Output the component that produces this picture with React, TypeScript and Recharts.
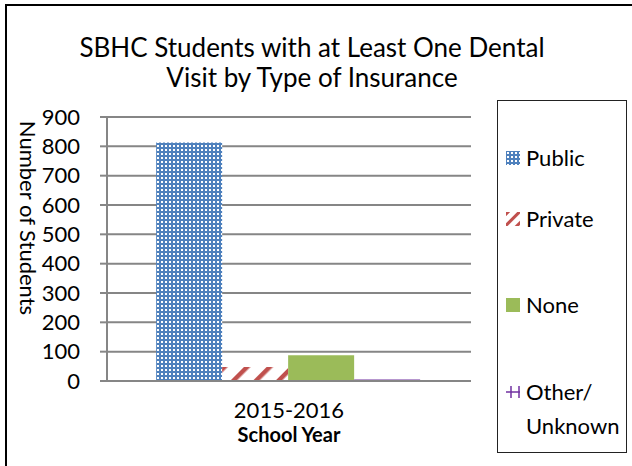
import { BarChart, Bar, XAxis, YAxis, CartesianGrid, Label } from "recharts";

// values
const years = ["2015-2016"];
const publicIns = [813];
const privateIns = [48];
const noneIns = [88];
const otherIns = [5];
const yTicks = [0, 100, 200, 300, 400, 500, 600, 700, 800, 900];

const seriesNames = ["Public", "Private", "None", "Other/ Unknown"];

const rows = years.map((y, i) => ({
  year: y,
  Public: publicIns[i],
  Private: privateIns[i],
  None: noneIns[i],
  Other: otherIns[i],
}));

const FONT = "Lato, 'Open Sans', sans-serif";

/* legend swatches */
function Swatch({ idx }: { idx: number }) {
  if (idx === 0)
    return (
      <svg width={14} height={14}>
        <rect width={14} height={14} fill="url(#pubPat)" />
      </svg>
    );
  if (idx === 1)
    return (
      <svg width={14} height={14}>
        <rect width={14} height={14} fill="url(#privPatSm)" />
      </svg>
    );
  if (idx === 2)
    return (
      <svg width={14} height={14}>
        <rect width={14} height={14} fill="#9BBB59" />
      </svg>
    );
  return (
    <svg width={14} height={14}>
      <line x1={0} y1={7} x2={14} y2={7} stroke="#7030A0" strokeWidth={1.5} />
      <line x1={5} y1={1} x2={5} y2={13} stroke="#7030A0" strokeWidth={1.5} />
      <line x1={13} y1={1} x2={13} y2={13} stroke="#7030A0" strokeWidth={1.5} />
    </svg>
  );
}

const legendTops = [40, 101, 187, 274];

function LegendBox() {
  return (
    <div
      style={{
        position: "absolute",
        left: 497,
        top: 100,
        width: 128,
        height: 351,
        border: "1.5px solid #222",
        fontFamily: FONT,
        fontSize: 22,
        color: "#000",
        background: "#fff",
      }}
    >
      {seriesNames.map((n, i) => (
        <div
          key={n}
          style={{
            position: "absolute",
            left: 8,
            top: legendTops[i],
            display: "flex",
            alignItems: i === 3 ? "flex-start" : "center",
            gap: 6,
            lineHeight: "34px",
          }}
        >
          <span style={{ display: "inline-flex", marginTop: i === 3 ? 10 : 0 }}>
            <Swatch idx={i} />
          </span>
          <span style={{ width: 100 }}>{n}</span>
        </div>
      ))}
    </div>
  );
}

function YTitle(props: any) {
  const vb = props.viewBox || { x: 0, y: 0, width: 0, height: 0 };
  const x = vb.x + 28;
  const y = vb.y + vb.height / 2 - 31;
  return (
    <text
      x={x}
      y={y}
      transform={`rotate(90, ${x}, ${y})`}
      textAnchor="middle"
      dominantBaseline="central"
      fill="#000"
      fontSize={22}
      fontFamily={FONT}
    >
      Number of Students
    </text>
  );
}

export default function App() {
  return (
    <div style={{ position: "relative", width: 632, height: 466, background: "#fff", overflow: "hidden" }}>
      <style>{`body{margin:0}`}</style>
      {/* frame */}
      <div
        style={{
          position: "absolute",
          left: 5,
          top: 4,
          width: 640,
          height: 480,
          borderLeft: "2px solid #000",
          borderTop: "2px solid #000",
        }}
      />
      {/* title */}
      <div
        style={{
          position: "absolute",
          left: 0,
          top: 32,
          width: 624,
          textAlign: "center",
          fontFamily: FONT,
          fontSize: 26,
          lineHeight: "30px",
          color: "#000",
        }}
      >
        SBHC Students with at Least One Dental
        <br />
        Visit by Type of Insurance
      </div>
      <div style={{ position: "absolute", left: 0, top: 0 }}>
        <BarChart
          width={632}
          height={466}
          data={rows}
          margin={{ top: 117, right: 161, bottom: 0, left: 0 }}
          barCategoryGap="13.5%"
          barGap={0}
        >
          <defs>
            <pattern id="pubPat" width={4} height={4} patternUnits="userSpaceOnUse">
              <rect width={4} height={4} fill="#4F81BD" />
              <rect x={1} y={1} width={2} height={2} fill="#fff" />
            </pattern>
            <pattern
              id="privPat"
              width={16}
              height={16}
              patternUnits="userSpaceOnUse"
              patternTransform="rotate(45)"
            >
              <rect width={16} height={16} fill="#fff" />
              <rect x={0} y={0} width={4.5} height={16} fill="#C0504D" />
            </pattern>
            <pattern
              id="privPatSm"
              width={8}
              height={8}
              patternUnits="userSpaceOnUse"
              patternTransform="rotate(45)"
            >
              <rect width={8} height={8} fill="#fff" />
              <rect x={0} y={0} width={3} height={8} fill="#C0504D" />
            </pattern>
          </defs>
          <CartesianGrid horizontal vertical={false} stroke="#868686" strokeWidth={2} />
          <XAxis
            dataKey="year"
            height={85}
            axisLine={{ stroke: "#868686", strokeWidth: 2 }}
            tickLine={false}
            tick={{ fill: "#000", fontSize: 22, fontFamily: FONT }}
            tickMargin={15}
          >
            <Label
              value="School Year"
              position="insideTop"
              offset={47}
              style={{ fill: "#000", fontSize: 20, fontWeight: "bold", fontFamily: FONT }}
            />
          </XAxis>
          <YAxis
            width={107}
            domain={[0, 900]}
            ticks={yTicks}
            interval={0}
            axisLine={{ stroke: "#868686", strokeWidth: 2 }}
            tickLine={{ stroke: "#868686", strokeWidth: 2 }}
            tickSize={7}
            tickMargin={20}
            tick={{ fill: "#000", fontSize: 22, fontFamily: FONT }}
          >
            <Label content={YTitle} />
          </YAxis>
          <Bar dataKey="Public" name={seriesNames[0]} fill="url(#pubPat)" isAnimationActive={false} />
          <Bar dataKey="Private" name={seriesNames[1]} fill="url(#privPat)" isAnimationActive={false} />
          <Bar dataKey="None" name={seriesNames[2]} fill="#9BBB59" isAnimationActive={false} />
          <Bar dataKey="Other" name={seriesNames[3]} fill="#7030A0" isAnimationActive={false} />
        </BarChart>
      </div>
      <LegendBox />
    </div>
  );
}
